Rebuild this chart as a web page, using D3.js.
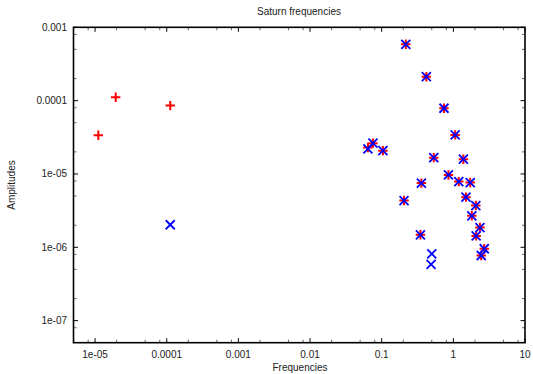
<!DOCTYPE html>
<html>
<head>
<meta charset="utf-8">
<script src="https://cdn.jsdelivr.net/npm/d3@7"></script>
<style>
  html, body { margin: 0; padding: 0; background: #fff; }
  text { font-family: "Liberation Sans", Arial, Helvetica, sans-serif; fill: #222; }
</style>
</head>
<body>
<svg id="chart" width="533" height="374"></svg>
<script>
// ---- Data ----
const redFreq = [1.11e-5, 1.94e-5, 1.12e-4,
  0.217, 0.42, 0.74, 1.06, 0.0643, 0.0755, 0.104, 0.533, 1.38, 0.854, 1.19, 1.72,
  0.358, 0.205, 1.50, 2.06, 1.81, 2.35, 2.08, 0.347, 2.70, 2.45];
const redAmp = [3.38e-5, 1.11e-4, 8.55e-5,
  5.86e-4, 2.12e-4, 7.87e-5, 3.41e-5, 2.30e-5, 2.63e-5, 2.08e-5, 1.67e-5, 1.59e-5, 9.7e-6, 7.87e-6, 7.64e-6,
  7.5e-6, 4.34e-6, 4.83e-6, 3.71e-6, 2.69e-6, 1.86e-6, 1.43e-6, 1.48e-6, 9.55e-7, 7.73e-7];
const blueFreq = [1.12e-4,
  0.217, 0.42, 0.74, 1.06, 0.0643, 0.0755, 0.104, 0.533, 1.38, 0.854, 1.19, 1.72,
  0.358, 0.205, 1.50, 2.06, 1.81, 2.35, 2.08, 0.347, 2.70, 2.45, 0.50, 0.489];
const blueAmp = [2.03e-6,
  5.86e-4, 2.12e-4, 7.87e-5, 3.41e-5, 2.20e-5, 2.63e-5, 2.08e-5, 1.67e-5, 1.59e-5, 9.7e-6, 7.87e-6, 7.64e-6,
  7.5e-6, 4.34e-6, 4.83e-6, 3.71e-6, 2.69e-6, 1.86e-6, 1.43e-6, 1.48e-6, 9.55e-7, 7.73e-7, 8.15e-7, 5.83e-7];
const xTickValues = [1e-5, 1e-4, 1e-3, 1e-2, 1e-1, 1, 10];
const xTickLabels = ["1e-05", "0.0001", "0.001", "0.01", "0.1", "1", "10"];
const yTickValues = [1e-7, 1e-6, 1e-5, 1e-4, 1e-3];
const yTickLabels = ["1e-07", "1e-06", "1e-05", "0.0001", "0.001"];
const minorMultipliers = [2, 5, 8];
const title = "Saturn frequencies";
const xTitle = "Frequencies";
const yTitle = "Amplitudes";

// ---- Layout ----
const L = 73.5, R = 525, T = 27.3, B = 342.7;
const svg = d3.select("#chart");
const x = d3.scaleLog().domain([5e-6, 10]).range([L, R]);
const y = d3.scaleLog().domain([5e-8, 1e-3]).range([B, T]);

function minors(domain) {
  const out = [];
  const lo = Math.floor(Math.log10(domain[0])), hi = Math.ceil(Math.log10(domain[1]));
  for (let e = lo; e < hi; e++) {
    minorMultipliers.forEach(m => {
      const v = m * Math.pow(10, e);
      if (v > domain[0] * 1.01 && v < domain[1] * 0.99) out.push(v);
    });
  }
  return out;
}
const xMinor = minors(x.domain());
const yMinor = minors(y.domain());

const g = svg.append("g");
const MAJ = 4.5, MIN = 3;

// x ticks (bottom and top, inward)
g.selectAll(".xmaj").data(xTickValues).join("g").each(function(d) {
  const s = d3.select(this);
  s.append("line").attr("x1", x(d)).attr("x2", x(d)).attr("y1", B).attr("y2", B - MAJ).attr("stroke", "#000");
  s.append("line").attr("x1", x(d)).attr("x2", x(d)).attr("y1", T).attr("y2", T + MAJ).attr("stroke", "#000");
});
g.selectAll(".xmin").data(xMinor).join("g").each(function(d) {
  const s = d3.select(this);
  s.append("line").attr("x1", x(d)).attr("x2", x(d)).attr("y1", B).attr("y2", B - MIN).attr("stroke", "#666");
  s.append("line").attr("x1", x(d)).attr("x2", x(d)).attr("y1", T).attr("y2", T + MIN).attr("stroke", "#666");
});
// y ticks (left and right, inward)
g.selectAll(".ymaj").data(yTickValues).join("g").each(function(d) {
  const s = d3.select(this);
  s.append("line").attr("y1", y(d)).attr("y2", y(d)).attr("x1", L).attr("x2", L + MAJ).attr("stroke", "#000");
  s.append("line").attr("y1", y(d)).attr("y2", y(d)).attr("x1", R).attr("x2", R - MAJ).attr("stroke", "#000");
});
g.selectAll(".ymin").data(yMinor).join("g").each(function(d) {
  const s = d3.select(this);
  s.append("line").attr("y1", y(d)).attr("y2", y(d)).attr("x1", L).attr("x2", L + MIN).attr("stroke", "#666");
  s.append("line").attr("y1", y(d)).attr("y2", y(d)).attr("x1", R).attr("x2", R - MIN).attr("stroke", "#666");
});

// border
g.append("rect").attr("x", L).attr("y", T).attr("width", R - L).attr("height", B - T)
  .attr("fill", "none").attr("stroke", "#000").attr("stroke-width", 1.6);

// tick labels
g.selectAll(".xl").data(xTickValues).join("text")
  .attr("x", d => x(d)).attr("y", 358).attr("text-anchor", "middle")
  .attr("font-size", 10).text((d, i) => xTickLabels[i]);
g.selectAll(".yl").data(yTickValues).join("text")
  .attr("x", 67).attr("y", d => y(d) + 3.5).attr("text-anchor", "end")
  .attr("font-size", 10).text((d, i) => yTickLabels[i]);

// titles
svg.append("text").attr("x", 299).attr("y", 14.5).attr("text-anchor", "middle").attr("font-size", 10).text(title);
svg.append("text").attr("x", 300).attr("y", 371).attr("text-anchor", "middle").attr("font-size", 10).text(xTitle);
svg.append("text").attr("transform", "translate(15,185) rotate(-90)").attr("text-anchor", "middle").attr("font-size", 10).text(yTitle);

// red plus markers
const P = 4.7;
const red = d3.range(redFreq.length).map(i => [redFreq[i], redAmp[i]]);
const blue = d3.range(blueFreq.length).map(i => [blueFreq[i], blueAmp[i]]);
g.selectAll(".plus").data(red).join("path")
  .attr("d", d => {
    const cx = x(d[0]), cy = y(d[1]);
    return `M${cx - P},${cy}H${cx + P}M${cx},${cy - P}V${cy + P}`;
  })
  .attr("stroke", "#ff0000").attr("stroke-width", 2).attr("fill", "none");
// blue cross markers
const C = 4.5;
g.selectAll(".cross").data(blue).join("path")
  .attr("d", d => {
    const cx = x(d[0]), cy = y(d[1]);
    return `M${cx - C},${cy - C}L${cx + C},${cy + C}M${cx - C},${cy + C}L${cx + C},${cy - C}`;
  })
  .attr("stroke", "#0000ff").attr("stroke-width", 1.8).attr("fill", "none");
</script>
</body>
</html>
